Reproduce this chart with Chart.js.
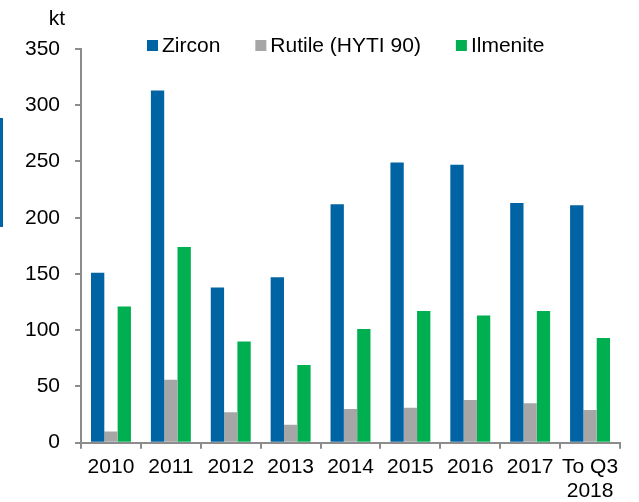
<!DOCTYPE html>
<html>
<head>
<meta charset="utf-8">
<script src="https://cdn.jsdelivr.net/npm/chart.js@4/dist/chart.umd.min.js"></script>
<style>
html,body{margin:0;padding:0;background:#fff;}
#wrap{width:639px;height:502px;position:relative;}
</style>
</head>
<body>
<div id="wrap"><canvas id="c" width="639" height="502"></canvas></div>
<script>
const categories = ["2010","2011","2012","2013","2014","2015","2016","2017",["To Q3","2018"]];
const zircon   = [151, 313, 138, 147, 212, 249, 247, 213, 211];
const rutile   = [10, 56, 27, 16, 30, 31, 38, 35, 29];
const ilmenite = [121, 174, 90, 69, 101, 117, 113, 117, 93];
const yTicks = [0, 50, 100, 150, 200, 250, 300, 350];
const unitLabel = "kt";

const FONT = "'Liberation Sans', Arial, sans-serif";
const AXIS = "#8c8c8c";

const decor = {
  id: 'decor',
  afterDraw(chart) {
    const ctx = chart.ctx;
    ctx.save();
    ctx.fillStyle = '#0063A3';
    ctx.fillRect(0, 118, 3, 109);
    ctx.fillStyle = '#000';
    ctx.font = '21px ' + FONT;
    ctx.textAlign = 'center';
    ctx.textBaseline = 'middle';
    ctx.fillText(unitLabel, 57, 19);
    ctx.textAlign = 'left';
    let x = 147;
    const y = 46;
    chart.data.datasets.forEach(ds => {
      ctx.fillStyle = ds.backgroundColor;
      ctx.fillRect(x, y - 6, 11, 11);
      x += 15;
      ctx.fillStyle = '#000';
      ctx.fillText(ds.label, x, y);
      x += ctx.measureText(ds.label).width + 35;
    });
    ctx.restore();
  }
};

new Chart(document.getElementById('c'), {
  type: 'bar',
  data: {
    labels: categories,
    datasets: [
      {label: 'Zircon', data: zircon, backgroundColor: '#0063A3'},
      {label: 'Rutile (HYTI 90)', data: rutile, backgroundColor: '#A6A6A6'},
      {label: 'Ilmenite', data: ilmenite, backgroundColor: '#00B050'}
    ]
  },
  options: {
    responsive: false,
    animation: false,
    devicePixelRatio: 1,
    layout: {padding: {top: 49, left: 10, right: 19, bottom: -7}},
    datasets: {bar: {barPercentage: 1, categoryPercentage: 0.667}},
    plugins: {legend: {display: false}, tooltip: {enabled: false}, title: {display: false}},
    scales: {
      x: {
        offset: true,
        grid: {display: true, offset: true, drawOnChartArea: false, drawTicks: true, tickLength: 6, color: AXIS, lineWidth: 2},
        border: {display: true, color: AXIS, width: 2},
        ticks: {color: '#000', font: {family: FONT, size: 21, lineHeight: 1.15}, padding: 6, maxRotation: 0, autoSkip: false}
      },
      y: {
        min: 0, max: 350,
        afterBuildTicks(scale) { scale.ticks = yTicks.map(v => ({value: v})); },
        grid: {display: true, drawOnChartArea: false, drawTicks: true, tickLength: 6, color: AXIS, lineWidth: 2},
        border: {display: true, color: AXIS, width: 2},
        ticks: {color: '#000', font: {family: FONT, size: 21}, padding: 15}
      }
    }
  },
  plugins: [decor]
});
</script>
</body>
</html>
